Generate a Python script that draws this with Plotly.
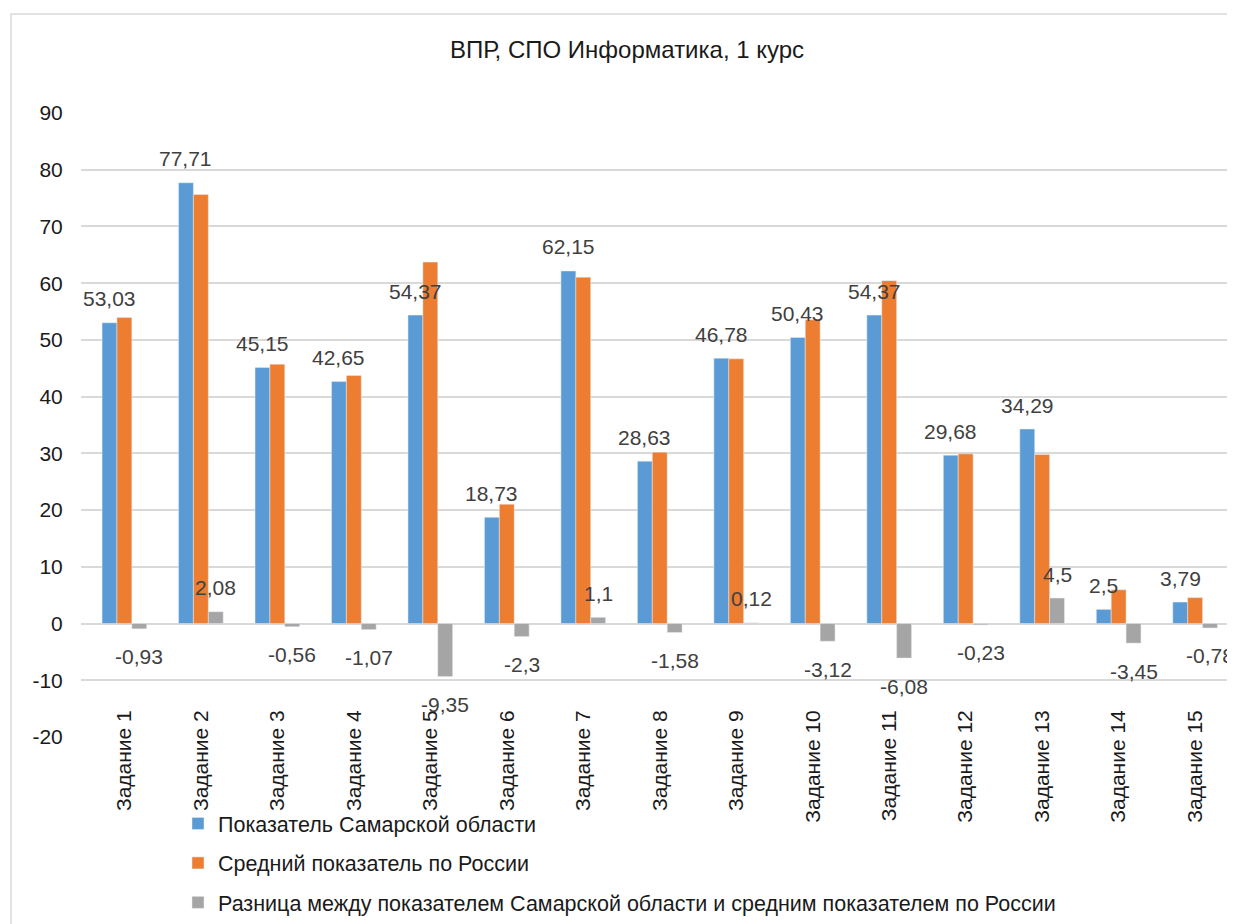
import plotly.graph_objects as go

categories = [f"Задание {i}" for i in range(1, 16)]
samara = [53.03, 77.71, 45.15, 42.65, 54.37, 18.73, 62.15, 28.63, 46.78, 50.43, 54.37, 29.68, 34.29, 2.5, 3.79]
russia = [53.96, 75.63, 45.71, 43.72, 63.72, 21.03, 61.05, 30.21, 46.66, 53.55, 60.45, 29.91, 29.79, 5.95, 4.57]
diff = [-0.93, 2.08, -0.56, -1.07, -9.35, -2.3, 1.1, -1.58, 0.12, -3.12, -6.08, -0.23, 4.5, -3.45, -0.78]
y_ticks = [-20, -10, 0, 10, 20, 30, 40, 50, 60, 70, 80, 90]
y_ticktext = ["-20", "-10", "0", "10", "20", "30", "40", "50", "60", "70", "80", "90"]
names = ["Показатель Самарской области", "Средний показатель по России",
         "Разница между показателем Самарской области и средним показателем по России"]
colors = ["#5B9BD5", "#ED7D31", "#A5A5A5"]

FONT = "Liberation Sans, Arial, sans-serif"
BARGAP = 0.416
W = (1 - BARGAP) / 3

# figure geometry (page is offset by the 8px body margin)
L, R, T, B = 73, 7, 105, 195
PW, PH = 1235 - L - R, 924 - T - B


def fmt(v):
    s = f"{v:.2f}".rstrip("0").rstrip(".")
    return s.replace(".", ",")


fig = go.Figure()
for i, (vals, nm, c) in enumerate(zip([samara, russia, diff], names, colors)):
    fig.add_trace(go.Bar(x=categories, y=vals, name=nm, marker_color=c,
                         legendgroup=f"g{i}"))

annotations = []
for series, off in ((samara, -W), (diff, W)):
    for idx, v in enumerate(series):
        annotations.append(dict(
            x=idx + off, y=v, xref="x", yref="y", text=fmt(v), showarrow=False,
            yshift=24 if v >= 0 else -28,
            font=dict(family=FONT, size=21, color="#404040")))

fig.update_layout(
    width=1235, height=924,
    margin=dict(l=L, r=R, t=T, b=B),
    paper_bgcolor="white", plot_bgcolor="white",
    barmode="group", bargap=BARGAP, bargroupgap=0,
    font=dict(family=FONT, size=21, color="#1a1a1a"),
    title=dict(text="ВПР, СПО Информатика, 1 курс", x=619 / 1235, xref="container",
               y=1 - 42 / 924, yref="container", yanchor="middle", xanchor="center",
               font=dict(family=FONT, size=24, color="#1a1a1a")),
    showlegend=True,
    legend=dict(orientation="v", x=(170 - L) / PW, xanchor="left",
                y=-(795 - (T + PH)) / PH, yanchor="top",
                traceorder="grouped", tracegroupgap=8.5, itemwidth=30,
                font=dict(family=FONT, size=21.5, color="#1a1a1a"),
                bgcolor="rgba(0,0,0,0)"),
    annotations=annotations,
    shapes=[dict(type="rect", xref="paper", yref="paper",
                 x0=(3 - L) / PW, x1=1.05, y0=-0.6, y1=(T + PH - 6) / PH,
                 line=dict(color="#d9d9d9", width=1.5), fillcolor="rgba(0,0,0,0)",
                 layer="below")],
)
fig.update_xaxes(type="category", tickangle=-90, showgrid=False, showline=False,
                 anchor="free", position=(T + PH - 697) / PH, ticks="",
                 tickfont=dict(family=FONT, size=21, color="#1a1a1a"))
fig.update_yaxes(range=[-20, 90], tickmode="array", tickvals=y_ticks, ticktext=y_ticktext,
                 showgrid=True, gridcolor="#d9d9d9", gridwidth=1.5, zeroline=True,
                 zerolinecolor="#d9d9d9", zerolinewidth=1.5, showline=False,
                 ticks="outside", ticklen=13, tickcolor="rgba(0,0,0,0)",
                 tickfont=dict(family=FONT, size=21, color="#1a1a1a"))

fig.write_html("out.html")
